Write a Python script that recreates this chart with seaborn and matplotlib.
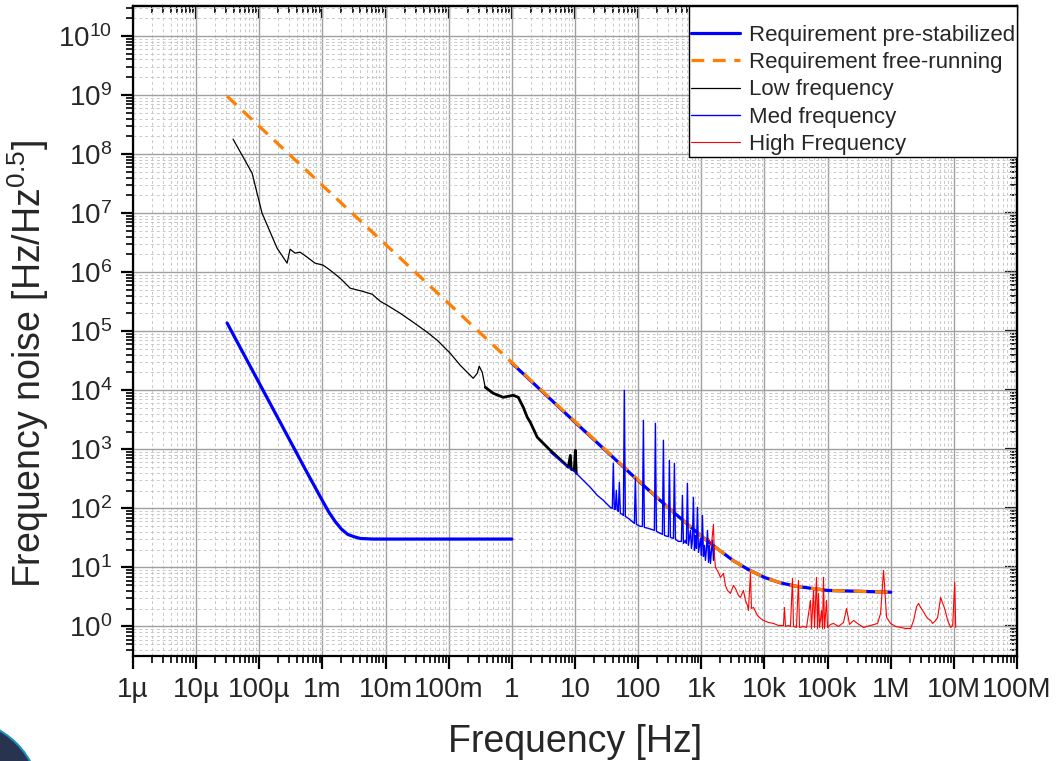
import numpy as np
import pandas as pd
import matplotlib
matplotlib.use("Agg")
import matplotlib.pyplot as plt
import seaborn as sns
from matplotlib.ticker import LogLocator, NullFormatter
from matplotlib.patches import Ellipse

# all values, given as log10(frequency / Hz) and log10(noise / Hz/Hz^0.5)

# requirement pre-stabilized, low part (flat 30 Hz/rtHz above ~2 mHz)
pre_low_logf = [-4.51, -4.25, -4.0, -3.75, -3.5, -3.25, -3.0, -2.9, -2.8, -2.7, -2.6, -2.5, -2.4, -2.2, -2.0, -1.0, 0.0]
pre_low_logv = [5.14, 4.62, 4.12, 3.62, 3.12, 2.62, 2.13, 1.94, 1.78, 1.65, 1.56, 1.52, 1.49, 1.48, 1.48, 1.48, 1.48]

# requirement pre-stabilized, high part (1 Hz .. 1 MHz)
pre_high_logf = [0.0, 1.0, 2.0, 2.5, 3.0, 3.25, 3.5, 3.75, 4.0, 4.25, 4.5, 5.0, 6.0]
pre_high_logv = [4.46, 3.46, 2.47, 1.99, 1.53, 1.32, 1.12, 0.96, 0.83, 0.74, 0.68, 0.61, 0.58]

# requirement free-running
free_logf = [-4.51, -2.0, 0.0, 1.0, 2.0, 2.5, 3.0, 3.25, 3.5, 3.75, 4.0, 4.25, 4.5, 5.0, 6.0]
free_logv = [8.98, 6.47, 4.47, 3.47, 2.48, 1.99, 1.53, 1.32, 1.12, 0.96, 0.83, 0.74, 0.68, 0.61, 0.58]

# low frequency measurement
low_logf = [-4.415, -4.114, -3.956, -3.718, -3.559, -3.512, -3.433, -3.353, -3.242, -3.116,
            -2.989, -2.878, -2.719, -2.561, -2.371, -2.212, -2.086, -1.975, -1.769, -1.563,
            -1.341, -1.182, -0.976, -0.818, -0.691, -0.612, -0.548, -0.517, -0.469, -0.422]
low_logv = [8.254, 7.678, 7.000, 6.407, 6.153, 6.390, 6.322, 6.339, 6.254, 6.153,
            6.119, 6.034, 5.898, 5.729, 5.678, 5.627, 5.508, 5.441, 5.305, 5.153,
            4.983, 4.847, 4.627, 4.424, 4.288, 4.203, 4.288, 4.407, 4.305, 4.051]
low_dense_logf = [-0.422, -0.295, -0.136, 0.022, 0.101, 0.181, 0.244, 0.292, 0.403, 0.609,
                  0.815, 0.894, 0.926, 0.941, 0.989, 1.005, 1.020]
low_dense_logv = [4.051, 3.949, 3.881, 3.915, 3.881, 3.712, 3.542, 3.458, 3.203, 2.983,
                  2.780, 2.695, 2.898, 2.661, 2.644, 2.983, 2.593]

# med frequency measurement
med_logf = [0.609, 0.815, 0.973, 1.084, 1.242, 1.353, 1.449, 1.559, 1.591, 1.607,
            1.623, 1.639, 1.654, 1.670, 1.686, 1.702, 1.718, 1.750, 1.766, 1.781,
            1.797, 1.845, 1.940, 1.956, 1.972, 2.035, 2.067, 2.083, 2.098, 2.162,
            2.257, 2.273, 2.289, 2.352, 2.384, 2.400, 2.416, 2.463, 2.479, 2.495,
            2.511, 2.558, 2.574, 2.590, 2.637, 2.685, 2.701, 2.717, 2.748, 2.764,
            2.780, 2.796, 2.828, 2.844, 2.859, 2.875, 2.891, 2.907, 2.923, 2.939,
            2.955, 2.987, 3.002, 3.018, 3.034, 3.050, 3.066, 3.082, 3.098, 3.114,
            3.129, 3.145, 3.161, 3.177, 3.193, 3.209]
med_logv = [2.949, 2.763, 2.644, 2.525, 2.356, 2.220, 2.136, 2.017, 2.000, 2.763,
            1.983, 1.983, 2.305, 1.966, 1.949, 2.441, 1.915, 1.898, 1.881, 4.000,
            1.864, 1.831, 1.746, 2.508, 1.729, 1.695, 1.695, 3.492, 1.678, 1.661,
            1.627, 3.441, 1.610, 1.576, 1.559, 3.153, 1.542, 1.525, 1.525, 2.814,
            1.508, 1.492, 2.763, 1.475, 1.441, 1.441, 2.220, 1.407, 1.458, 1.407,
            2.424, 1.373, 1.627, 1.322, 1.458, 2.186, 1.288, 1.542, 1.322, 2.017,
            1.254, 1.492, 1.203, 1.881, 1.186, 1.373, 1.119, 1.322, 1.627, 1.085,
            1.373, 1.068, 1.288, 1.458, 1.119, 1.322]

# high frequency measurement
high_logf = [3.113, 3.160, 3.192, 3.208, 3.224, 3.271, 3.303, 3.351, 3.382, 3.414,
             3.461, 3.509, 3.541, 3.588, 3.620, 3.667, 3.699, 3.731, 3.747, 3.778,
             3.794, 3.826, 3.889, 3.937, 3.984, 4.064, 4.143, 4.222, 4.301, 4.317,
             4.333, 4.381, 4.412, 4.444, 4.460, 4.507, 4.539, 4.555, 4.618, 4.666,
             4.729, 4.745, 4.777, 4.793, 4.824, 4.840, 4.856, 4.872, 4.904, 4.920,
             4.935, 4.951, 4.983, 4.999, 5.046, 5.094, 5.173, 5.252, 5.300, 5.347,
             5.411, 5.474, 5.569, 5.680, 5.791, 5.839, 5.886, 5.934, 5.997, 6.077,
             6.156, 6.235, 6.315, 6.362, 6.410, 6.441, 6.473, 6.505, 6.552, 6.584,
             6.632, 6.663, 6.711, 6.743, 6.790, 6.822, 6.838, 6.870, 6.901, 6.949,
             6.981, 7.013, 7.029]
high_logv = [1.492, 1.373, 1.729, 1.203, 1.000, 0.915, 0.831, 0.898, 0.695, 0.610,
             0.559, 0.695, 0.644, 0.525, 0.492, 0.610, 0.441, 0.356, 0.271, 0.915,
             0.305, 0.322, 0.186, 0.136, 0.102, 0.068, 0.051, 0.017, 0.017, 0.322,
             0.000, 0.017, 0.000, 0.814, 0.000, -0.017, 0.780, -0.017, 0.000, -0.017,
             0.441, -0.034, 0.610, -0.017, 0.831, -0.034, 0.559, -0.017, 0.271, -0.034,
             0.831, -0.034, 0.441, -0.017, 0.034, 0.051, 0.000, 0.068, 0.305, 0.034,
             0.102, 0.051, -0.017, 0.017, 0.051, 0.220, 0.949, 0.153, 0.051, 0.000,
             -0.017, -0.034, -0.034, 0.102, 0.339, 0.390, 0.322, 0.271, 0.186, 0.136,
             0.102, 0.051, 0.102, 0.153, 0.492, 0.390, 0.356, 0.237, 0.102, -0.017,
             0.017, 0.746, -0.017]

x_tick_exp = list(range(-6, 9))
x_tick_labels = ["1µ", "10µ", "100µ", "1m", "10m", "100m", "1", "10", "100",
                 "1k", "10k", "100k", "1M", "10M", "100M"]

sns.set_theme(style="white")
plt.rcParams["font.family"] = ["Liberation Sans", "DejaVu Sans"]
plt.rcParams["mathtext.fontset"] = "custom"
plt.rcParams["mathtext.rm"] = "Liberation Sans"
plt.rcParams["mathtext.it"] = "Liberation Sans:italic"
plt.rcParams["mathtext.bf"] = "Liberation Sans:bold"

fig = plt.figure(figsize=(10.57, 7.61), dpi=100)
ax = fig.add_axes([0.1258, 0.138, 0.8364, 0.8535])


def curve(logf, logv, **kw):
    d = pd.DataFrame({"f": 10.0 ** np.asarray(logf), "v": 10.0 ** np.asarray(logv)})
    sns.lineplot(data=d, x="f", y="v", ax=ax, estimator=None, sort=False, legend=False, **kw)


curve(pre_low_logf, pre_low_logv, color="#0000ff", lw=2.3, label="Requirement pre-stabilized", zorder=3)
curve(pre_high_logf, pre_high_logv, color="#0000ff", lw=2.3, zorder=3)
curve(free_logf, free_logv, color="#ff8000", lw=2.3, linestyle=(0, (4, 2.7)),
      label="Requirement free-running", zorder=4)
curve(low_logf, low_logv, color="black", lw=0.9, label="Low frequency", zorder=5)
curve(low_dense_logf, low_dense_logv, color="black", lw=2.0, zorder=5)
curve(med_logf, med_logv, color="#0000ff", lw=1.0, label="Med frequency", zorder=6)
curve(high_logf, high_logv, color="#ff0000", lw=0.8, label="High Frequency", zorder=7)

ax.set_xscale("log")
ax.set_yscale("log")
ax.set_xlim(1e-6, 1e8)
ax.set_ylim(10 ** -0.5, 10 ** 10.5)

ax.set_xticks(10.0 ** np.array(x_tick_exp), x_tick_labels)
ax.xaxis.set_minor_locator(LogLocator(10, subs=np.arange(2, 10), numticks=200))
ax.yaxis.set_major_locator(LogLocator(10, numticks=40))
ax.yaxis.set_minor_locator(LogLocator(10, subs=np.arange(2, 10), numticks=200))
ax.xaxis.set_minor_formatter(NullFormatter())
ax.yaxis.set_minor_formatter(NullFormatter())

ax.grid(which="major", color="#a0a0a0", lw=1.0, ls="-")
ax.grid(which="minor", color="#c8c8c8", lw=0.7, ls=(0, (3, 3)))
ax.set_axisbelow(True)

ax.tick_params(which="both", bottom=True, left=True, top=False, right=False)
ax.tick_params(which="major", direction="out", length=9, width=1.6, labelsize=20,
               pad=6, color="black")
ax.tick_params(which="minor", direction="out", length=5, width=1.2, color="black")
for s in ax.spines.values():
    s.set_linewidth(1.6)
    s.set_color("black")

top = ax.secondary_xaxis("top")
top.set_xticks(10.0 ** np.array(x_tick_exp))
top.xaxis.set_minor_locator(LogLocator(10, subs=np.arange(2, 10), numticks=200))
top.tick_params(which="both", top=True)
top.tick_params(which="major", direction="in", length=9, width=1.6, labeltop=False, color="black")
top.tick_params(which="minor", direction="in", length=5, width=1.2, color="black")
top.spines["top"].set_linewidth(1.6)

right = ax.secondary_yaxis("right")
right.yaxis.set_major_locator(LogLocator(10, numticks=40))
right.yaxis.set_minor_locator(LogLocator(10, subs=np.arange(2, 10), numticks=200))
right.tick_params(which="both", right=True)
right.tick_params(which="major", direction="in", length=9, width=1.6, labelright=False, color="black")
right.tick_params(which="minor", direction="in", length=5, width=1.2, color="black")
right.spines["right"].set_linewidth(1.6)

ax.set_xlabel("Frequency [Hz]", fontsize=27, labelpad=15)
ax.set_ylabel("Frequency noise [Hz/Hz$^{0.5}$]", fontsize=27)
ax.yaxis.set_label_coords(-0.093, 0.45)

leg = ax.legend(loc="upper right", fontsize=16, frameon=True, fancybox=False, edgecolor="black",
                framealpha=1, borderaxespad=0, handlelength=2.2, handletextpad=0.4,
                labelspacing=0.28, borderpad=0.1, title=" ", title_fontsize=8)
leg.get_frame().set_linewidth(1.0)
leg.set_zorder(10)

# dark corner mark at the bottom left of the picture
fig.add_artist(Ellipse((-40 / 1057, -39 / 761), 2 * 80 / 1057, 2 * 80 / 761,
                       transform=fig.transFigure, facecolor="#283350",
                       edgecolor="#1a8fc0", lw=1.5))

fig.savefig("out.png", dpi=100)
